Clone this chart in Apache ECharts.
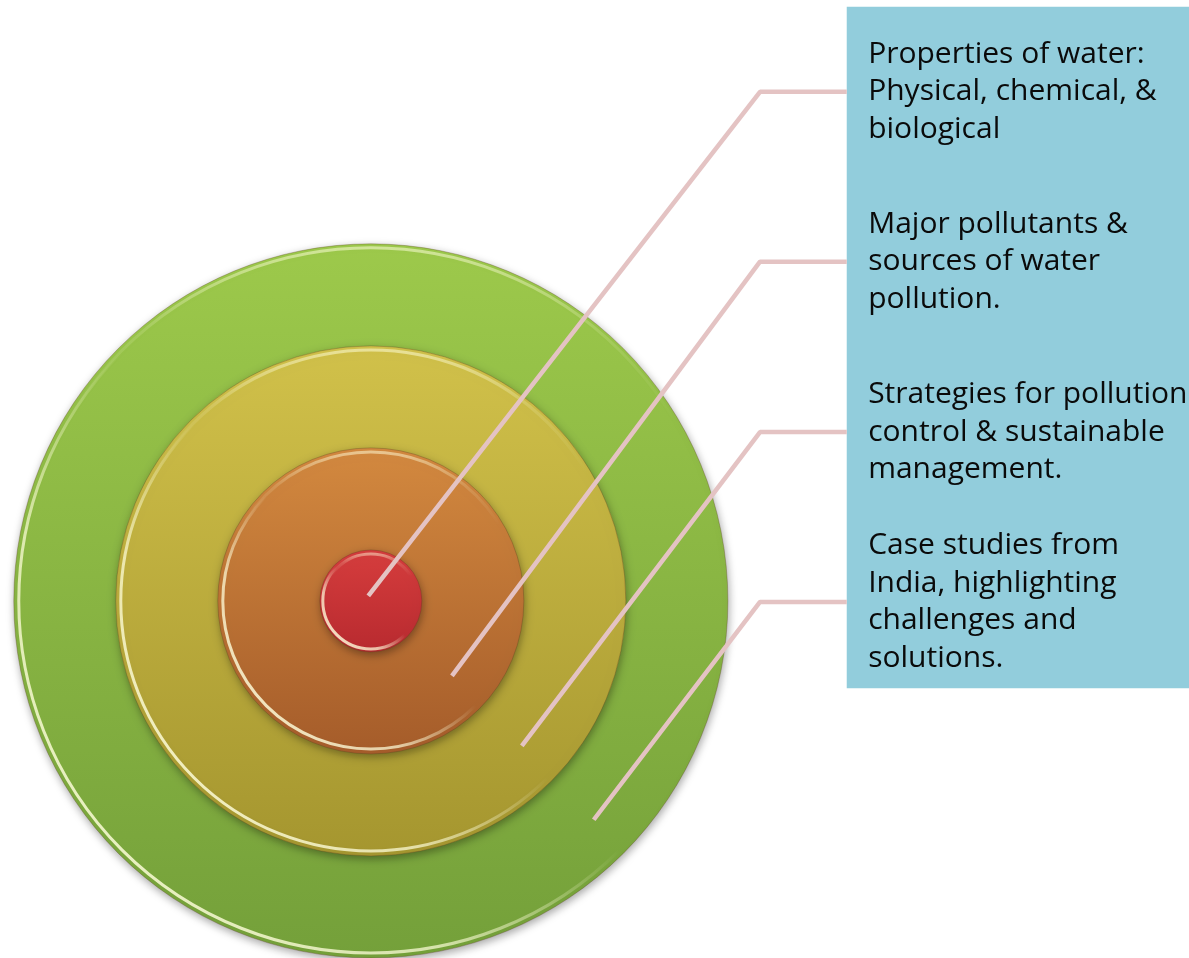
<!DOCTYPE html>
<html><head><meta charset="utf-8">
<script src="https://cdn.jsdelivr.net/npm/echarts@6/dist/echarts.min.js"></script>
<style>html,body{margin:0;padding:0;background:#fff}#c{width:1189px;height:958px}</style>
</head><body><div id="c"></div>
<script>
// ---- data (diagram units; 1 unit = radius of the bull's-eye) ----
const labels = [
  'Properties of water:\nPhysical, chemical, &\nbiological',
  'Major pollutants &\nsources of water\npollution.',
  'Strategies for pollution\ncontrol & sustainable\nmanagement.',
  'Case studies from\nIndia, highlighting\nchallenges and\nsolutions.'
];
const ringRadii = [1, 3, 5, 7];                 // inner -> outer
const ringTopColors = ['#D63D3D', '#D3893F', '#D1C14A', '#9DC94B'];
const ringBottomColors = ['#B82A2F', '#A55C2A', '#A5962F', '#74A03A'];
const leaderStartX = [-0.05, 1.59, 2.96, 4.37];
const leaderStartY = [0.10, -1.47, -2.84, -4.29];
const leaderCornerX = [7.63, 7.63, 7.63, 7.63];
const leaderY = [9.98, 6.65, 3.31, -0.02];
const boxX = [9.33, 16.2];
const boxY = [11.65, -1.71];
const textX = 9.75;

const chart = echarts.init(document.getElementById('c'), null, {renderer: 'canvas'});

const ringData = ringRadii.map((r, i) => [0, 0, r, i]).reverse();

function grad(x, y, x2, y2, stops) {
  return new echarts.graphic.LinearGradient(x, y, x2, y2, stops.map(s => ({offset: s[0], color: s[1]})));
}

const series = [];

// rings
series.push({
  type: 'custom', z: 2, silent: true, animation: false,
  data: ringData,
  renderItem(params, api) {
    const c = api.coord([api.value(0), api.value(1)]);
    const r = api.size([api.value(2), 0])[0];
    const i = api.value(3);
    const isRed = i === 0;
    const children = [
      { type: 'circle', shape: {cx: c[0], cy: c[1], r: r},
        style: { fill: grad(0, 0, 0, 1, [[0, ringTopColors[i]], [1, ringBottomColors[i]]]),
                 stroke: 'rgba(90,60,30,0.3)', lineWidth: 1,
                 shadowBlur: 8, shadowOffsetX: 1, shadowOffsetY: 3, shadowColor: 'rgba(0,0,0,0.35)' } },
      // lower-left bevel highlight
      { type: 'circle', shape: {cx: c[0], cy: c[1], r: r - (isRed ? 3 : 5)},
        style: { fill: 'none', lineWidth: 3,
                 stroke: grad(0, 1, 1, 0, [[0, 'rgba(255,255,220,0.95)'], [0.3, 'rgba(255,255,220,0.7)'], [0.5, 'rgba(255,255,220,0)'], [1, 'rgba(255,255,220,0)']]) } },
      // top highlight
      { type: 'circle', shape: {cx: c[0], cy: c[1], r: r - 4},
        style: { fill: 'none', lineWidth: 3,
                 stroke: grad(0, 0, 0, 1, [[0, 'rgba(255,255,220,0.55)'], [0.12, 'rgba(255,255,220,0.15)'], [0.25, 'rgba(255,255,220,0)'], [1, 'rgba(255,255,220,0)']]) } }
    ];
    return { type: 'group', children };
  }
});

// text box
series.push({
  type: 'custom', z: 3, silent: true, animation: false,
  data: [[boxX[0], boxY[0], boxX[1], boxY[1]]],
  renderItem(params, api) {
    const p1 = api.coord([api.value(0), api.value(1)]);
    const p2 = api.coord([api.value(2), api.value(3)]);
    return { type: 'rect', shape: {x: p1[0], y: p1[1], width: p2[0] - p1[0], height: p2[1] - p1[1]},
             style: { fill: '#92CDDC' } };
  }
});

// leader lines
labels.forEach((l, i) => {
  series.push({
    type: 'line', z: 4, silent: true, animation: false, symbol: 'none',
    lineStyle: { color: '#E4C3C3', width: 4.5 },
    data: [[leaderStartX[i], leaderStartY[i]], [leaderCornerX[i], leaderY[i]], [boxX[0], leaderY[i]]]
  });
});

// labels
series.push({
  type: 'custom', z: 5, silent: true, animation: false,
  data: labels.map((l, i) => [textX, leaderY[i], i]),
  renderItem(params, api) {
    const p = api.coord([api.value(0), api.value(1)]);
    return { type: 'text', x: p[0], y: p[1],
             style: { text: labels[api.value(2)], fill: '#0a0a0a', fontSize: 30, lineHeight: 37.5,
                      fontFamily: '"Open Sans", Lato, sans-serif', align: 'left', verticalAlign: 'middle' } };
  }
});

chart.setOption({
  animation: false,
  backgroundColor: '#ffffff',
  grid: { left: 0, right: 0, top: 0, bottom: 0 },
  xAxis: { type: 'value', min: -7.27, max: 16.04, show: false },
  yAxis: { type: 'value', min: -7.0, max: 11.78, show: false },
  series: series
});
</script></body></html>
